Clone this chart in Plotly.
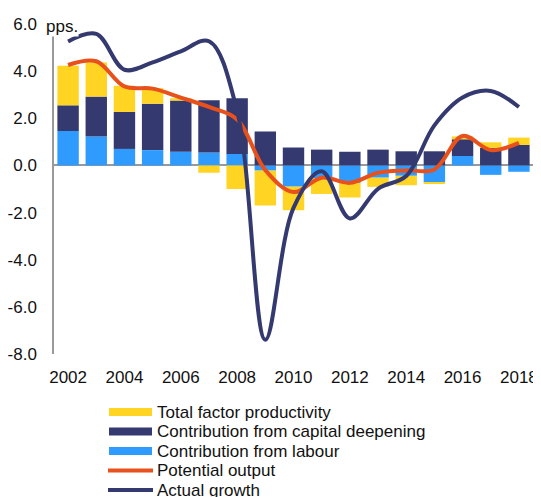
import plotly.graph_objects as go

years = list(range(2002, 2019))
labour = [1.46, 1.23, 0.70, 0.65, 0.58, 0.55, 0.49, -0.22, -0.90, -0.55, -0.74, -0.52, -0.44, -0.71, 0.40, -0.40, -0.27]
capital = [1.09, 1.69, 1.57, 1.97, 2.17, 2.22, 2.36, 1.44, 0.76, 0.67, 0.58, 0.67, 0.60, 0.60, 0.71, 0.75, 0.87]
tfp = [1.68, 1.45, 1.11, 0.66, 0.10, -0.31, -1.00, -1.48, -1.00, -0.66, -0.62, -0.39, -0.40, -0.07, 0.12, 0.23, 0.31]
potential = [4.26, 4.42, 3.35, 3.26, 2.88, 2.48, 1.95, -0.20, -1.13, -0.52, -0.74, -0.31, -0.21, -0.17, 1.25, 0.65, 0.96]
actual = [5.26, 5.58, 4.06, 4.37, 4.84, 5.27, 2.30, -7.40, -1.80, -0.25, -2.25, -0.99, -0.45, 1.70, 2.88, 3.16, 2.48]
y_ticks = [-8, -6, -4, -2, 0, 2, 4, 6]
y_tick_labels = ["-8.0", "-6.0", "-4.0", "-2.0", "0.0", "2.0", "4.0", "6.0"]
x_ticks = [2002, 2004, 2006, 2008, 2010, 2012, 2014, 2016, 2018]

legend_names = ["Total factor productivity", "Contribution from capital deepening",
                "Contribution from labour", "Potential output", "Actual growth"]

C_TFP = "#FFD422"
C_CAP = "#343A70"
C_LAB = "#2F9BFF"
C_POT = "#E8511C"
C_ACT = "#343A70"
legend_colors = [C_TFP, C_CAP, C_LAB, C_POT, C_ACT]
legend_kinds = ["bar", "bar", "bar", "line", "line"]

FONT = "Liberation Sans, Arial, sans-serif"
# the page body has an 8px margin, so the figure is placed at (8, 8) in the window
OFF = 8
W, H = 541 - OFF, 497 - OFF
L, R, T, B = 54 - OFF, 533 - OFF, 24 - OFF, 354 - OFF  # plot area in figure pixels

def px(x):  # window pixel -> paper
    return (x - OFF - L) / (R - L)

def py(y):
    return (B - (y - OFF)) / (B - T)

fig = go.Figure()
fig.add_trace(go.Bar(x=years, y=labour, marker=dict(color=C_LAB, line=dict(width=0)),
                     name=legend_names[2], showlegend=False))
fig.add_trace(go.Bar(x=years, y=capital, marker=dict(color=C_CAP, line=dict(width=0)),
                     name=legend_names[1], showlegend=False))
fig.add_trace(go.Bar(x=years, y=tfp, marker=dict(color=C_TFP, line=dict(width=0)),
                     name=legend_names[0], showlegend=False))
fig.add_trace(go.Scatter(x=years, y=potential, mode="lines",
                         line=dict(color=C_POT, width=4, shape="spline", smoothing=1),
                         name=legend_names[3], showlegend=False))
fig.add_trace(go.Scatter(x=years, y=actual, mode="lines",
                         line=dict(color=C_ACT, width=4, shape="spline", smoothing=1),
                         name=legend_names[4], showlegend=False))

shapes = []
annotations = []
# manual legend
leg_y = [412, 431.5, 451, 470.5, 490]
for name, col, kind, yc in zip(legend_names, legend_colors, legend_kinds, leg_y):
    if kind == "bar":
        shapes.append(dict(type="rect", xref="paper", yref="paper",
                           x0=px(109), x1=px(152), y0=py(yc - 4), y1=py(yc + 4),
                           fillcolor=col, line=dict(width=0)))
    else:
        shapes.append(dict(type="line", xref="paper", yref="paper",
                           x0=px(108), x1=px(153), y0=py(yc), y1=py(yc),
                           line=dict(color=col, width=4)))
    annotations.append(dict(text=name, xref="paper", yref="paper",
                            x=px(155), y=py(yc), xanchor="left", yanchor="middle",
                            showarrow=False, font=dict(family=FONT, size=17, color="#111")))
# unit label
annotations.append(dict(text="pps.", xref="paper", yref="paper",
                        x=px(45), y=py(26.5), xanchor="left", yanchor="middle",
                        showarrow=False, bgcolor="white", borderpad=0,
                        font=dict(family=FONT, size=17, color="#111")))

fig.update_layout(
    width=W, height=H,
    margin=dict(l=L, r=W - R, t=T, b=H - B, autoexpand=False),
    barmode="relative", bargap=0.24,
    plot_bgcolor="white", paper_bgcolor="white",
    font=dict(family=FONT, size=17, color="#111"),
    showlegend=False,
    shapes=shapes, annotations=annotations,
)
fig.update_xaxes(range=[2001.5, 2018.5], tickvals=x_ticks, ticks="", showgrid=False,
                 showline=False, zeroline=False, ticklabelstandoff=11, automargin=False,
                 tickfont=dict(family=FONT, size=17, color="#111"))
fig.update_yaxes(range=[-8, 6], tickvals=y_ticks, ticktext=y_tick_labels, ticks="",
                 showgrid=False, showline=True, linecolor="#999999", linewidth=1.5,
                 zeroline=True, zerolinecolor="#999999", zerolinewidth=2,
                 ticklabelstandoff=12, automargin=False,
                 tickfont=dict(family=FONT, size=17, color="#111"))

fig.write_html("out.html")
